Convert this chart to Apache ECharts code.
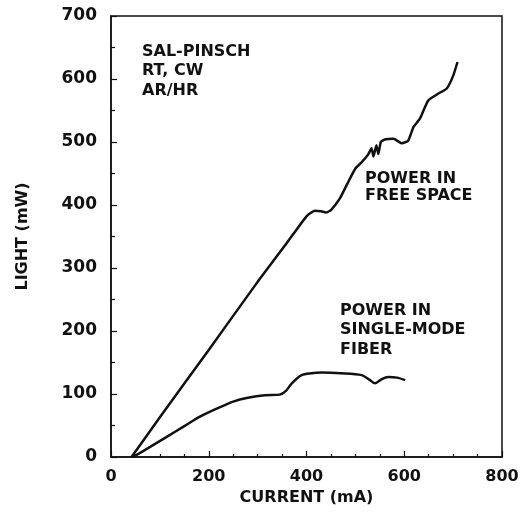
<!DOCTYPE html>
<html>
<head>
<meta charset="utf-8">
<script src="https://cdn.jsdelivr.net/npm/echarts@6/dist/echarts.min.js"></script>
<style>
  html, body { margin: 0; padding: 0; background: #fff; }
  #main { width: 530px; height: 516px; }
</style>
</head>
<body>
<div id="main"></div>
<script>
// current (mA), light (mW)
var freeSpace = [
  [42, 0], [100, 63], [200, 170], [300, 278], [360, 340], [400, 382],
  [417, 391], [430, 390], [440, 388], [450, 392], [468, 410], [485, 436],
  [500, 458], [513, 468], [526, 480], [533, 490], [537, 477], [543, 495],
  [547, 481], [552, 500], [560, 504], [578, 505], [595, 498], [608, 502],
  [619, 524], [632, 537], [649, 566], [670, 577], [687, 585], [700, 605], [709, 627]
];
var singleModeFiber = [
  [45, 0], [80, 16], [114, 32], [150, 49], [182, 64], [220, 78], [250, 88],
  [280, 94], [315, 98], [345, 99], [358, 105], [370, 117], [390, 130],
  [410, 133], [431, 134], [470, 133], [513, 130], [530, 122], [540, 117],
  [555, 124], [567, 127], [585, 126], [602, 122]
];
var xTicks = [0, 200, 400, 600, 800];
var yTicks = [0, 100, 200, 300, 400, 500, 600, 700];

var font = 'DejaVu Sans';
var ink = '#111';

var chart = echarts.init(document.getElementById('main'));

var option = {
  backgroundColor: '#fff',
  animation: false,
  grid: {
    left: 111, right: 28, top: 16, bottom: 59,
    show: true, borderColor: ink, borderWidth: 1.5, backgroundColor: 'transparent'
  },
  xAxis: {
    type: 'value',
    min: xTicks[0], max: xTicks[xTicks.length - 1], interval: 200,
    name: 'CURRENT (mA)',
    nameLocation: 'middle',
    nameGap: 32,
    nameTextStyle: { fontFamily: font, fontWeight: 'bold', fontSize: 16, color: ink },
    axisLine: { show: true, lineStyle: { color: ink, width: 1.5 } },
    axisTick: { show: true, inside: true, length: 6, lineStyle: { color: ink, width: 1.2 } },
    minorTick: { show: true, splitNumber: 4, length: 3, lineStyle: { color: ink, width: 1.2 } },
    splitLine: { show: false },
    axisLabel: { fontFamily: font, fontWeight: 'bold', fontSize: 16, color: ink, margin: 12 }
  },
  yAxis: {
    type: 'value',
    min: yTicks[0], max: yTicks[yTicks.length - 1], interval: 100,
    name: 'LIGHT (mW)',
    nameLocation: 'middle',
    nameGap: 80,
    nameTextStyle: { fontFamily: font, fontWeight: 'bold', fontSize: 16, color: ink },
    axisLine: { show: true, lineStyle: { color: ink, width: 1.5 } },
    axisTick: { show: true, inside: true, length: 6, lineStyle: { color: ink, width: 1.2 } },
    minorTick: { show: true, splitNumber: 2, length: 4, lineStyle: { color: ink, width: 1.2 } },
    splitLine: { show: false },
    axisLabel: { fontFamily: font, fontWeight: 'bold', fontSize: 17, color: ink, margin: 14 }
  },
  series: [
    {
      name: 'POWER IN FREE SPACE',
      type: 'line',
      data: freeSpace,
      smooth: 0.15,
      symbol: 'none',
      lineStyle: { color: ink, width: 2.5 }
    },
    {
      name: 'POWER IN SINGLE-MODE FIBER',
      type: 'line',
      data: singleModeFiber,
      smooth: 0.3,
      symbol: 'none',
      lineStyle: { color: ink, width: 2.5 }
    }
  ],
  graphic: [
    {
      type: 'text', left: 142, top: 42,
      style: { text: 'SAL-PINSCH\nRT, CW\nAR/HR', fill: ink, font: 'bold 16px "DejaVu Sans"', lineHeight: 19.5 }
    },
    {
      type: 'text', left: 365, top: 170,
      style: { text: 'POWER IN\nFREE SPACE', fill: ink, font: 'bold 16px "DejaVu Sans"', lineHeight: 17 }
    },
    {
      type: 'text', left: 340, top: 301,
      style: { text: 'POWER IN\nSINGLE-MODE\nFIBER', fill: ink, font: 'bold 16px "DejaVu Sans"', lineHeight: 19.5 }
    }
  ]
};

chart.setOption(option);
</script>
</body>
</html>
